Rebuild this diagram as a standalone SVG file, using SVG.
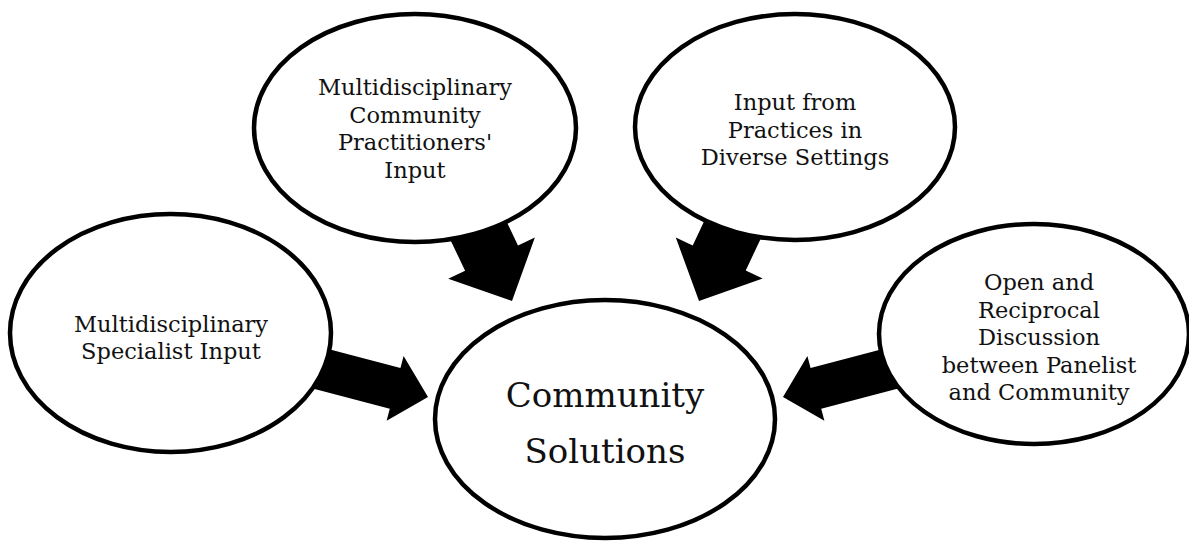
<svg xmlns="http://www.w3.org/2000/svg" width="1189" height="541" viewBox="0 0 1189 541">
<defs>
<style>
.node ellipse{fill:#fff;stroke:#000;stroke-width:4.5}
.lbl{font-family:"DejaVu Serif","Liberation Serif",serif;font-size:22.5px;fill:#111;text-anchor:middle}
.big{font-family:"DejaVu Serif","Liberation Serif",serif;font-size:34px;fill:#111;text-anchor:middle}
.arr{fill:#000;stroke:none}
</style>
<polygon id="arrS" points="0,0 -34,-33.5 -34,-21 -150,-21 -150,21 -34,21 -34,33.5"/>
<polygon id="arrB" points="0,0 -47.5,-48 -47.5,-29.3 -115,-29.3 -115,29.3 -47.5,29.3 -47.5,48"/>
</defs>
<rect width="1189" height="541" fill="#fff"/>
<g id="connectors" class="arr">
<use href="#arrS" transform="translate(428,397) rotate(14.7)"/>
<use href="#arrS" transform="translate(783,397) rotate(165.3)"/>
<use href="#arrB" transform="translate(512,301) rotate(64.5)"/>
<use href="#arrB" transform="translate(699,301) rotate(115.2)"/>
</g>
<g id="node-practitioners" class="node">
<ellipse cx="415" cy="128" rx="161" ry="114"/>
<text class="lbl" x="415" y="95">Multidisciplinary</text>
<text class="lbl" x="415" y="122.5">Community</text>
<text class="lbl" x="415" y="150">Practitioners'</text>
<text class="lbl" x="415" y="177.5">Input</text>
</g>
<g id="node-practices" class="node">
<ellipse cx="795" cy="127" rx="160" ry="113"/>
<text class="lbl" x="795" y="110">Input from</text>
<text class="lbl" x="795" y="138">Practices in</text>
<text class="lbl" x="795" y="165">Diverse Settings</text>
</g>
<g id="node-specialist" class="node">
<ellipse cx="170.5" cy="333" rx="160.5" ry="119"/>
<text class="lbl" x="171" y="332">Multidisciplinary</text>
<text class="lbl" x="171" y="359">Specialist Input</text>
</g>
<g id="node-discussion" class="node">
<ellipse cx="1034" cy="334" rx="155" ry="110"/>
<text class="lbl" x="1039" y="290">Open and</text>
<text class="lbl" x="1039" y="317.5">Reciprocal</text>
<text class="lbl" x="1039" y="345">Discussion</text>
<text class="lbl" x="1039" y="372.5">between Panelist</text>
<text class="lbl" x="1039" y="400">and Community</text>
</g>
<g id="node-solutions" class="node">
<ellipse cx="605" cy="419" rx="170" ry="119"/>
<text class="big" x="605" y="407">Community</text>
<text class="big" x="605" y="463">Solutions</text>
</g>
</svg>
